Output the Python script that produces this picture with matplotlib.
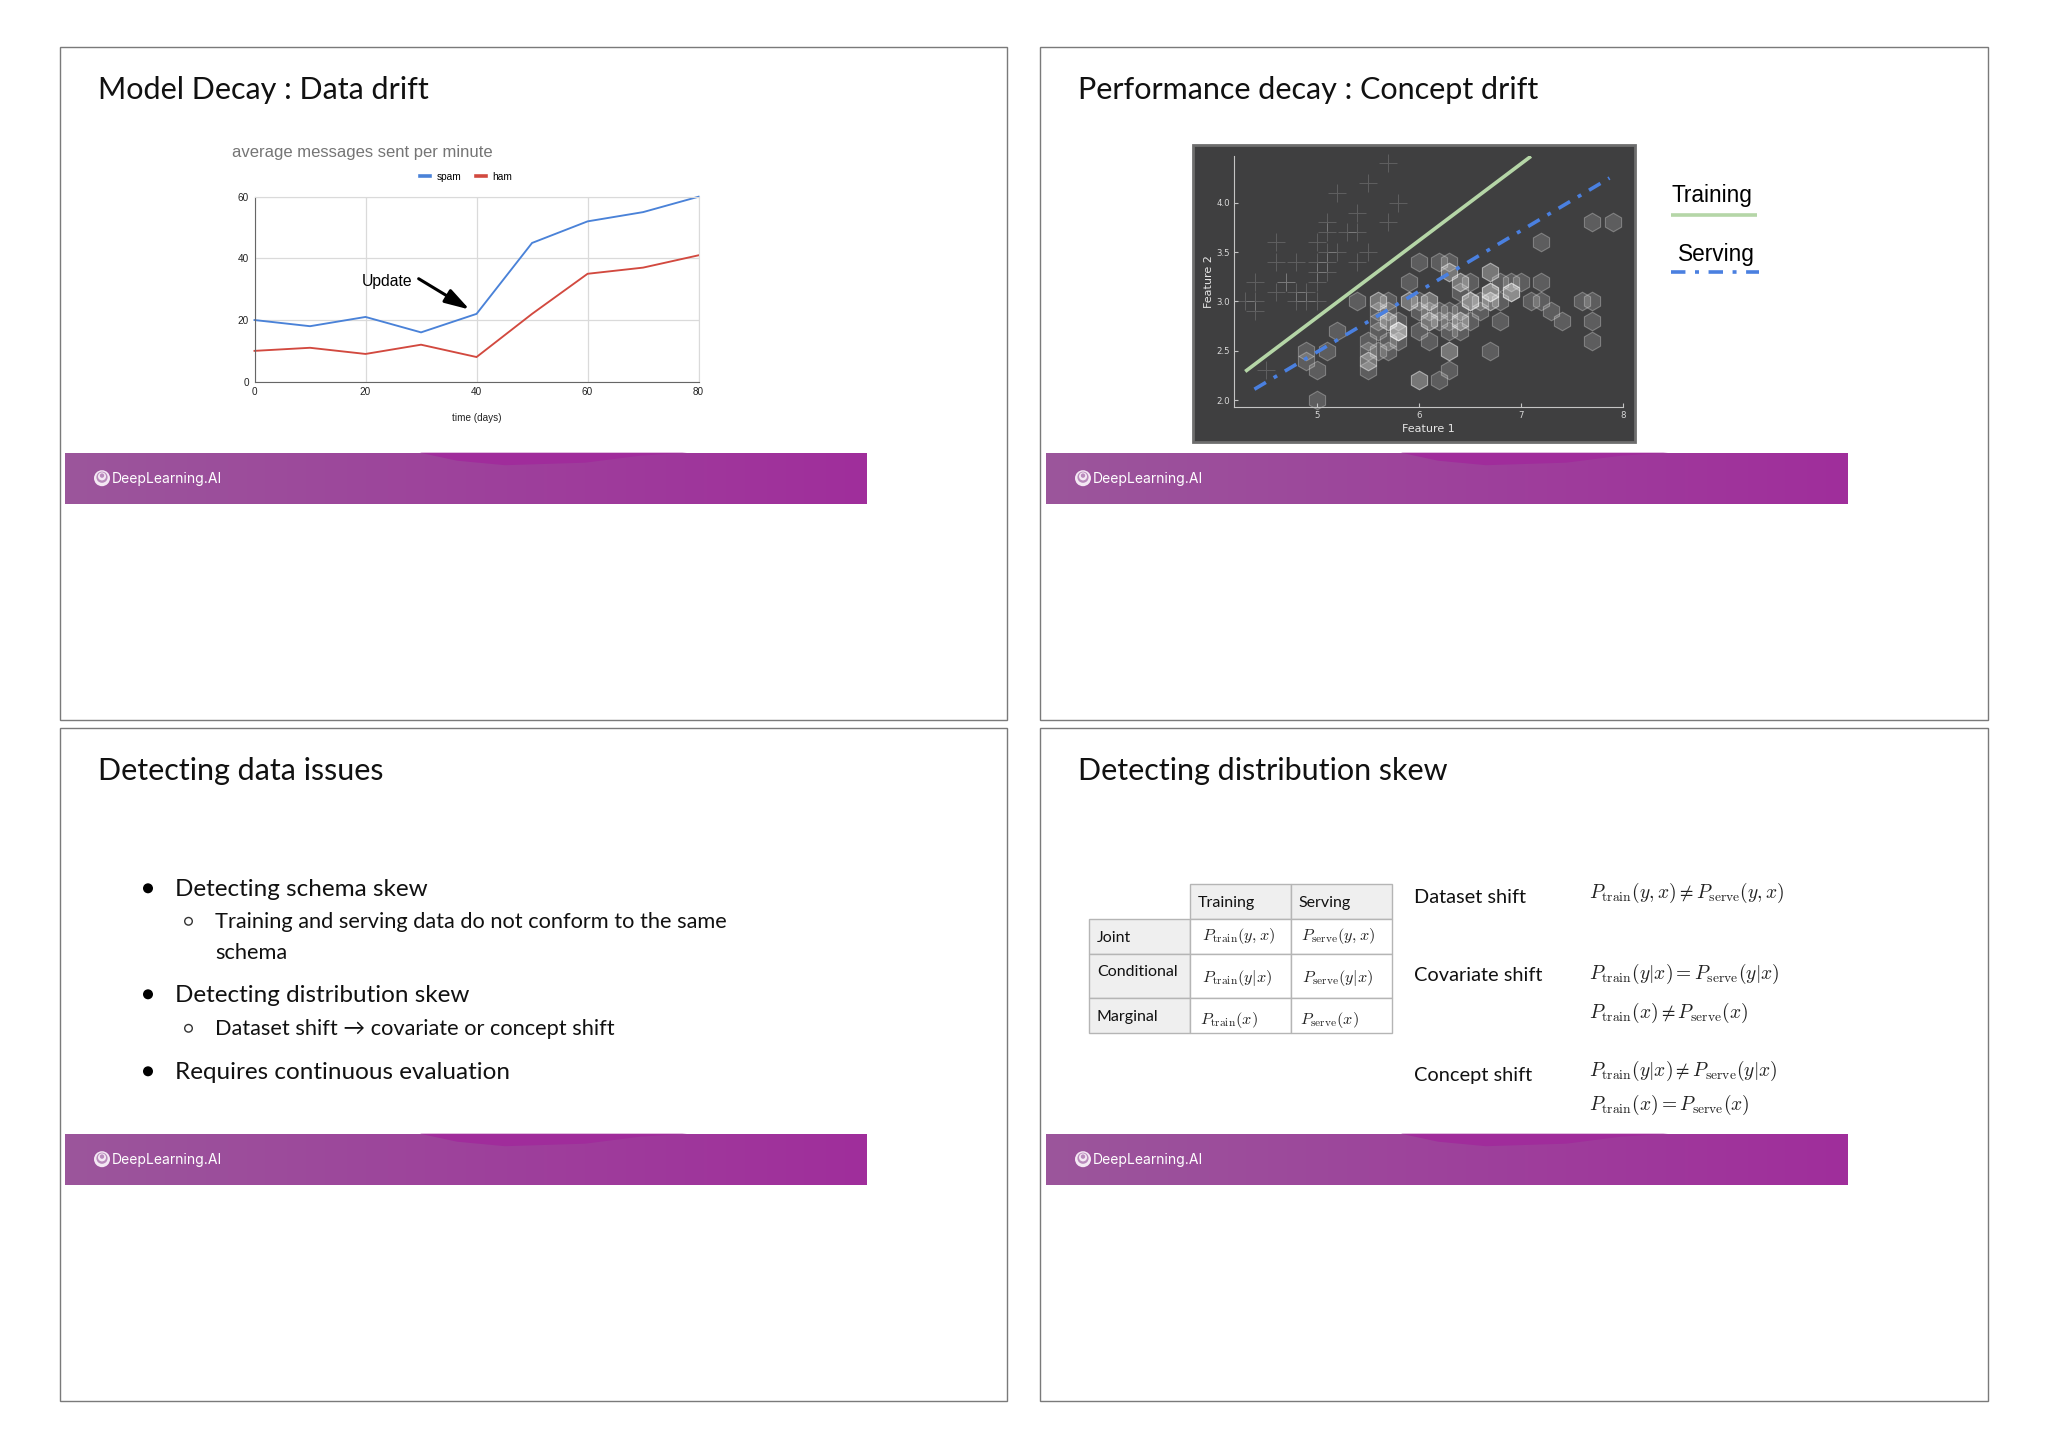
import numpy as np
import matplotlib
matplotlib.use("Agg")
import matplotlib.pyplot as plt
from matplotlib.patches import Rectangle, Polygon, Circle

plt.rcParams['mathtext.fontset'] = 'cm'

W, H = 2048, 1447

# ---- data ----
days = [0, 10, 20, 30, 40, 50, 60, 70, 80]
spam = [20, 18, 21, 16, 22, 45, 52, 55, 60]
ham = [10, 11, 9, 12, 8, 22, 35, 37, 41]

plus_x = [5.1,4.9,4.7,4.6,5.0,5.4,4.6,5.0,4.4,4.9,5.4,4.8,4.8,4.3,5.8,5.7,5.7,5.1,5.4,5.1,4.6,5.1,5.0,5.2,4.7,4.8,5.2,5.5,5.0,5.5,4.4,5.1,4.5,4.4,5.3,5.0]
plus_y = [3.5,3.0,3.2,3.1,3.6,3.9,3.4,3.4,2.9,3.1,3.7,3.4,3.0,3.0,4.0,4.4,3.8,3.8,3.4,3.7,3.6,3.3,3.0,3.5,3.2,3.1,4.1,4.2,3.2,3.5,3.0,3.4,2.3,3.2,3.7,3.3]
hex_x = [7.0,6.4,6.9,5.5,6.5,5.7,6.3,4.9,6.6,5.2,5.0,5.9,6.0,6.1,5.6,6.7,5.6,5.8,6.2,5.6,5.9,6.1,6.3,6.1,6.4,6.6,6.8,6.7,6.0,5.7,5.5,5.5,5.8,6.0,5.4,6.0,6.7,6.3,5.6,5.5,5.5,6.1,5.8,5.0,5.6,5.7,5.7,6.2,5.1,5.7,
         6.3,5.8,7.1,6.3,6.5,7.6,4.9,7.3,6.7,7.2,6.5,6.4,6.8,5.7,5.8,6.4,6.5,7.7,7.7,6.0,6.9,5.6,7.7,6.3,6.7,7.2,6.2,6.1,6.4,7.2,7.4,7.9,6.4,6.3,6.1,7.7,6.3,6.4,6.0,6.9,6.7,6.9,5.8,6.8,6.7,6.7,6.3,6.5,6.2,5.9]
hex_y = [3.2,3.2,3.1,2.3,2.8,2.8,3.3,2.4,2.9,2.7,2.0,3.0,2.2,2.9,2.9,3.1,3.0,2.7,2.2,2.5,3.2,2.8,2.5,2.8,2.9,3.0,2.8,3.0,2.9,2.6,2.4,2.4,2.7,2.7,3.0,3.4,3.1,2.3,3.0,2.5,2.6,3.0,2.6,2.3,2.7,3.0,2.9,2.9,2.5,2.8,
         3.3,2.7,3.0,2.9,3.0,3.0,2.5,2.9,2.5,3.6,3.2,2.7,3.0,2.5,2.8,3.2,3.0,3.8,2.6,2.2,3.2,2.8,2.8,2.7,3.3,3.2,2.8,3.0,2.8,3.0,2.8,3.8,2.8,2.8,2.6,3.0,3.4,3.1,3.0,3.1,3.1,3.1,2.7,3.2,3.3,3.0,2.5,3.0,3.4,3.0]
training_x = [4.30, 7.10]
training_y = [2.29, 4.47]
serving_x = [4.39, 7.87]
serving_y = [2.11, 4.25]

titles = ["Model Decay : Data drift", "Performance decay : Concept drift",
          "Detecting data issues", "Detecting distribution skew"]
LATO = ['Lato', 'DejaVu Sans']

fig = plt.figure(figsize=(W / 100, H / 100), dpi=100, facecolor='white')
cv = fig.add_axes([0, 0, 1, 1])
cv.set_axis_off()


def ax_px(l, t, r, b):
    return fig.add_axes([l / W, 1 - b / H, (r - l) / W, (b - t) / H])


PANEL_X = [(60, 1007), (1040, 1988)]
PANEL_Y = [(47, 720), (728, 1401)]
grad = np.linspace(0, 1, 256)[None, :, None]
c0 = np.array([155, 86, 155]) / 255
c1 = np.array([160, 46, 155]) / 255
grad_img = c0 + (c1 - c0) * grad

for r, (pt, pb) in enumerate(PANEL_Y):
    for c, (pl, pr) in enumerate(PANEL_X):
        cv.add_patch(Rectangle((pl, pt), pr - pl, pb - pt, fc='white', ec='#7a7a7a', lw=1.0))
        cv.text(pl + 37.5, pt + 43, titles[r * 2 + c], fontsize=22, family=LATO, va='center', color='#111111')
        bl, bt = pl + 5 + c, pt + 405.7
        bw, bh = 801.5, 51
        cv.imshow(grad_img, extent=(bl, bl + bw, bt + bh, bt), aspect='auto', zorder=2)
        cv.add_patch(Polygon([(bl + 355, bt), (bl + 392, bt + 8), (bl + 440, bt + 12.5), (bl + 520, bt + 10),
                              (bl + 575, bt + 3), (bl + 622, bt)], fc='#a02c9b', ec='none', zorder=3))
        lx, ly = bl + 37, bt + 25.5
        cv.add_patch(Circle((lx, ly), 8, fc='#f4e8f4', ec='none', zorder=4))
        cv.add_patch(Circle((lx, ly - 1), 5.6, fc='#b98abc', ec='none', zorder=5))
        cv.add_patch(Circle((lx, ly - 1.8), 4, fc='#f4e8f4', ec='none', zorder=5))
        cv.add_patch(Circle((lx, ly - 2.6), 2.2, fc='#b98abc', ec='none', zorder=5))
        cv.text(bl + 46.5, bt + 26, "DeepLearning.AI", color='white', fontsize=10, family=['Inter', 'DejaVu Sans'],
                va='center', zorder=5)

cv.set_xlim(0, W)
cv.set_ylim(H, 0)

# ---- panel 1: line chart ----
a1 = ax_px(254.5, 196.7, 698.6, 381.7)
a1.patch.set_alpha(0)
a1.plot(days, spam, color='#4a82d8', lw=1.35, label='spam', clip_on=False, solid_joinstyle='miter')
a1.plot(days, ham, color='#d2493f', lw=1.35, label='ham', clip_on=False, solid_joinstyle='miter')
a1.set_xlim(0, 80)
a1.set_ylim(0, 60)
a1.set_xticks([0, 20, 40, 60, 80])
a1.set_yticks([0, 20, 40, 60])
a1.grid(color='#dadada', lw=0.9)
a1.set_axisbelow(True)
for s in ['top', 'right']:
    a1.spines[s].set_color('#dadada')
for s in ['left', 'bottom']:
    a1.spines[s].set_color('#666666')
a1.tick_params(length=0, labelsize=7.2, pad=4, labelcolor='#222222')
for t in a1.get_xticklabels() + a1.get_yticklabels():
    t.set_family('Liberation Sans')
a1.set_xlabel("time (days)", fontsize=7.2, family='Liberation Sans', color='#222222', labelpad=11)
cv.text(232.5, 153, "average messages sent per minute", fontsize=12, family='Liberation Sans', color='#757575', va='center')
leg = a1.legend(loc='center', bbox_to_anchor=(466 / W, 1 - 177 / H), bbox_transform=fig.transFigure, ncol=2, frameon=False,
                prop={'family': 'Liberation Sans', 'size': 7.3}, handlelength=1.0, handletextpad=0.65, columnspacing=1.4)
for h in leg.legend_handles:
    h.set_linewidth(2.6)
a1.text(19.3, 32.5, "Update", fontsize=11.3, family='Liberation Sans', color='black', va='center', ha='left')
a1.annotate("", xy=(38.75, 23.4), xytext=(29.57, 33.4), annotation_clip=False,
            arrowprops=dict(arrowstyle='-|>,head_length=1.5,head_width=0.45', color='black', lw=2.2, shrinkA=0, shrinkB=0))

# ---- panel 2: scatter ----
cv.add_patch(Rectangle((1192.5, 144.5), 442, 297, fc='#3f3f40', ec='#6e6e6e', lw=2, zorder=2))
a2 = ax_px(1234, 155.7, 1622.8, 407)
a2.patch.set_alpha(0)
a2.scatter(plus_x, plus_y, marker='+', s=170, c='white', alpha=0.17, linewidths=0.7, clip_on=False)
a2.scatter(hex_x, hex_y, marker='h', s=180, facecolors=(1, 1, 1, 0.16), edgecolors=(1, 1, 1, 0.28), linewidths=0.8, clip_on=False)
a2.plot(training_x, training_y, color='#b5d6a7', lw=2.6, solid_capstyle='butt')
a2.plot(serving_x, serving_y, color='#4a80e0', lw=2.6, dash_capstyle='butt', dashes=(3.7, 2.5, 1.1, 2.5))
a2.set_xlim(4.19, 8.0)
a2.set_ylim(1.93, 4.476)
a2.set_xticks([5, 6, 7, 8])
a2.set_yticks([2.0, 2.5, 3.0, 3.5, 4.0])
a2.set_yticklabels(['2.0', '2.5', '3.0', '3.5', '4.0'])
for s in ['top', 'right']:
    a2.spines[s].set_visible(False)
for s in ['left', 'bottom']:
    a2.spines[s].set_color('#c4c4c4')
a2.tick_params(direction='in', length=3, width=0.8, color='#c4c4c4', labelcolor='#d8d8d8', labelsize=6.2, pad=3)
a2.set_xlabel("Feature 1", fontsize=8, color='#e6e6e6', labelpad=2.5, x=0.5)
a2.set_ylabel("Feature 2", fontsize=8, color='#e6e6e6', labelpad=1.5)
cv.text(1672, 195.5, "Training", fontsize=16.3, family='Liberation Sans', va='center', color='black')
cv.plot([1671, 1757], [215, 215], color='#b5d6a7', lw=2.6, solid_capstyle='butt', zorder=3)
cv.text(1678, 254.5, "Serving", fontsize=16.3, family='Liberation Sans', va='center', color='black')
cv.plot([1671, 1759], [272, 272], color='#4a80e0', lw=2.6, dash_capstyle='butt', dashes=(4, 2.65, 1.1, 2.65), zorder=3)

# ---- panel 3: bullets ----
bullets = [(0, 889.3, "Detecting schema skew"),
           (1, 922.3, "Training and serving data do not conform to the same"),
           (2, 953.3, "schema"),
           (0, 995.3, "Detecting distribution skew"),
           (1, 1029.3, "Dataset shift \u2192 covariate or concept shift"),
           (0, 1072.3, "Requires continuous evaluation")]
for lvl, y, s in bullets:
    x = 175 if lvl == 0 else 215
    cv.text(x, y, s, fontsize=17.5 if lvl == 0 else 15.7, family=LATO, va='center', color='#111111')
    if lvl == 0:
        cv.add_patch(Circle((148, y - 1), 5, fc='black', ec='none'))
    elif lvl == 1:
        cv.add_patch(Circle((188.5, y - 1), 3.8, fc='none', ec='#333333', lw=1))

# ---- panel 4: table and formulas ----
GRAY = '#efefef'
EDGE = '#b5b5b5'
xs = [1089, 1190.4, 1291, 1392]
ys = [884, 919, 953.7, 998, 1033]
for i in range(3):
    for j in range(4):
        if i == 0 and j == 0:
            continue
        fill = GRAY if (i == 0 or j == 0) else 'white'
        cv.add_patch(Rectangle((xs[i], ys[j]), xs[i + 1] - xs[i], ys[j + 1] - ys[j], fc=fill, ec=EDGE, lw=1, zorder=2))

table_text = [(1198, 903, "Training"), (1298.5, 903, "Serving"), (1097, 938.5, "Joint"),
              (1097, 972.3, "Conditional"), (1097, 1017, "Marginal")]
for x, y, s in table_text:
    cv.text(x, y, s, fontsize=11.5, family=LATO, va='center', color='#111111', zorder=3)

TR = r'P_{\mathrm{train}}'
SE = r'P_{\mathrm{serve}}'
table_math = [(1202, 936.3, rf'${TR}(y,x)$'), (1301.3, 936.3, rf'${SE}(y,x)$'),
              (1202, 978.3, rf'${TR}(y|x)$'), (1302, 978.3, rf'${SE}(y|x)$'),
              (1200, 1020.5, rf'${TR}(x)$'), (1300, 1019.5, rf'${SE}(x)$')]
for x, y, s in table_math:
    cv.text(x, y, s, fontsize=11.7, va='center', color='#222222', zorder=3)

shift_names = [(897.2, "Dataset shift"), (975.5, "Covariate shift"), (1075.5, "Concept shift")]
for y, s in shift_names:
    cv.text(1414, y, s, fontsize=14.4, family=LATO, va='center', color='#111111')

formulas = [(893.2, rf'${TR}(y,x) \neq {SE}(y,x)$'), (973.5, rf'${TR}(y|x) = {SE}(y|x)$'),
            (1013, rf'${TR}(x) \neq {SE}(x)$'), (1071.3, rf'${TR}(y|x) \neq {SE}(y|x)$'),
            (1105.3, rf'${TR}(x) = {SE}(x)$')]
for y, s in formulas:
    cv.text(1589, y, s, fontsize=14, va='center', color='#222222')

fig.savefig('out.png', dpi=100, facecolor='white')
